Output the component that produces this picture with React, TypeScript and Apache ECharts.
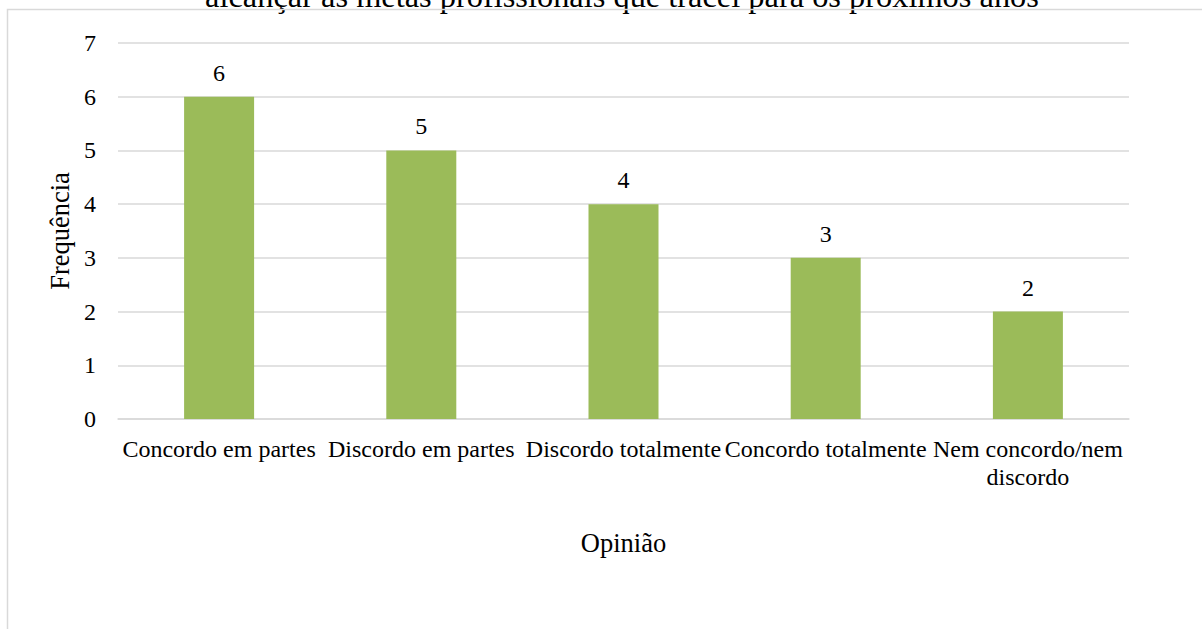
import React, { useEffect, useRef } from "react";
import * as echarts from "echarts";

const titleText = "alcançar as metas profissionais que tracei para os próximos anos";
const categories = [
  "Concordo em partes",
  "Discordo em partes",
  "Discordo totalmente",
  "Concordo totalmente",
  "Nem concordo/nem discordo",
];
const values = [6, 5, 4, 3, 2];
const yTicks = [0, 1, 2, 3, 4, 5, 6, 7];
const xAxisName = "Opinião";
const yAxisName = "Frequência";

const FONT = "'Liberation Serif', 'Times New Roman', serif";

export default function App() {
  const ref = useRef<HTMLDivElement>(null);
  useEffect(() => {
    if (!ref.current) return;
    const chart = echarts.init(ref.current, null, { renderer: "svg" });
    chart.setOption({
      animation: false,
      backgroundColor: "#ffffff",
      textStyle: { fontFamily: FONT },
      graphic: [
        {
          type: "text",
          x: 622,
          y: -4,
          z: 1,
          style: {
            text: titleText,
            fontFamily: FONT,
            fontSize: 32.4,
            fill: "#000000",
            align: "center",
            verticalAlign: "middle",
          },
        },
        {
          type: "rect",
          z: 2,
          shape: { x: 7.5, y: 9.5, width: 1400, height: 800 },
          style: { fill: "none", stroke: "#d9d9d9", lineWidth: 1.5 },
        },
      ],
      grid: { left: 118, right: 73, top: 43, bottom: 210, containLabel: false },
      xAxis: {
        type: "category",
        data: categories,
        name: xAxisName,
        nameLocation: "middle",
        nameGap: 110,
        nameTextStyle: { fontFamily: FONT, fontSize: 26.5, color: "#000" },
        axisLine: { show: true, lineStyle: { color: "#d9d9d9", width: 1.5 } },
        axisTick: { show: false },
        axisLabel: {
          interval: 0,
          margin: 16,
          fontFamily: FONT,
          fontSize: 24,
          color: "#000",
          lineHeight: 28,
          formatter: (v: string) => v.replace("/nem ", "/nem\n"),
        },
      },
      yAxis: {
        type: "value",
        min: yTicks[0],
        max: yTicks[yTicks.length - 1],
        interval: 1,
        name: yAxisName,
        nameLocation: "middle",
        nameGap: 41,
        nameRotate: 90,
        nameTextStyle: { fontFamily: FONT, fontSize: 26.5, color: "#000" },
        axisLine: { show: false },
        axisTick: { show: false },
        axisLabel: { margin: 22, fontFamily: FONT, fontSize: 24, color: "#000" },
        splitLine: { show: true, lineStyle: { color: "#d9d9d9", width: 1.5 } },
      },
      series: [
        {
          type: "bar",
          data: values,
          barWidth: 70,
          itemStyle: { color: "#9bbb59" },
          label: {
            show: true,
            position: "top",
            distance: 12,
            fontFamily: FONT,
            fontSize: 24,
            color: "#000",
          },
        },
      ],
    });
    return () => chart.dispose();
  }, []);
  return (
    <div
      ref={ref}
      style={{ position: "fixed", left: 0, top: 0, width: 1202, height: 629 }}
    />
  );
}
